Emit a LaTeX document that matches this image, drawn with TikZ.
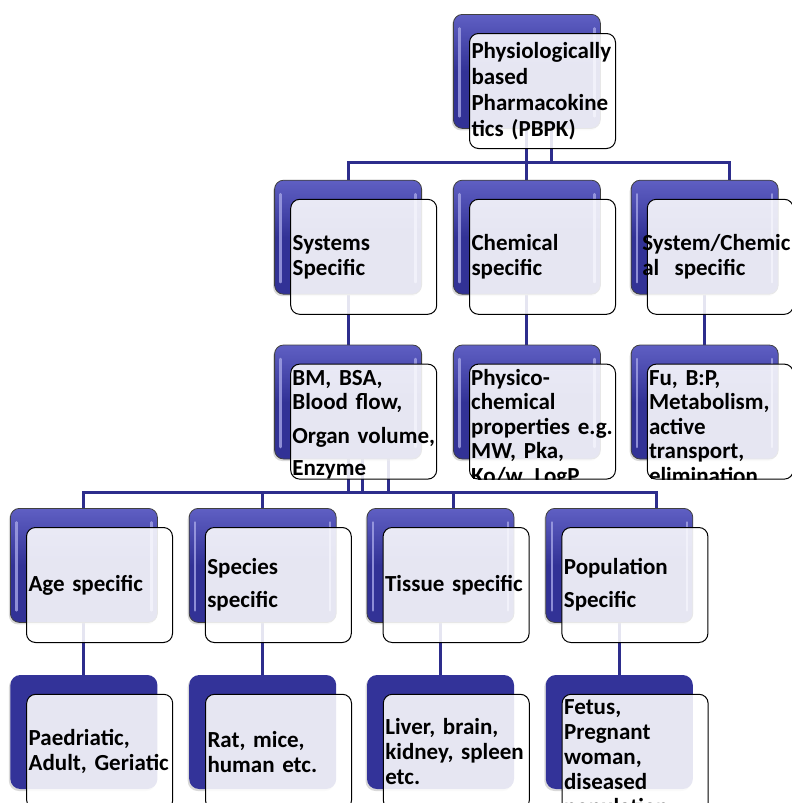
\documentclass[tikz,border=0pt]{standalone}
\usepackage{fontspec}
\setmainfont{Carlito}
\usepackage{xcolor}
\usepackage{tikz}
\usetikzlibrary{positioning,calc,shadows,backgrounds}
\definecolor{glossDark}{RGB}{50,50,150}
\definecolor{glossTop}{RGB}{95,95,195}
\definecolor{glossLine}{RGB}{165,165,230}
\definecolor{flatBlue}{RGB}{51,51,153}
\definecolor{linkBlue}{RGB}{45,45,140}
\hyphenpenalty=10000
\exhyphenpenalty=10000

\begin{document}
\begin{tikzpicture}[
  font=\fontsize{23}{25}\selectfont\bfseries,
  node distance=51pt and 31pt,
  back/.style={
    draw=black!75, line width=0.8pt, rounded corners=9pt,
    top color=glossTop, bottom color=glossDark, middle color=glossDark,
    minimum width=147pt, minimum height=114pt, inner sep=0pt,
    drop shadow={shadow xshift=-1.5pt, shadow yshift=-2pt, opacity=0.3},
    path picture={
      \draw[glossLine, line width=2.5pt, line cap=round, opacity=0.8]
        ([xshift=6pt,yshift=-14pt]path picture bounding box.north west)
          -- ([xshift=6pt,yshift=12pt]path picture bounding box.south west)
        ([xshift=-6pt,yshift=-14pt]path picture bounding box.north east)
          -- ([xshift=-6pt,yshift=12pt]path picture bounding box.south east);
    }
  },
  flat/.style={
    fill=flatBlue, rounded corners=10pt,
    minimum width=147pt, minimum height=114pt, inner sep=0pt,
    drop shadow={shadow xshift=-1.5pt, shadow yshift=-2pt, opacity=0.3}
  },
  front/.style={
    draw=black, line width=1pt, rounded corners=9pt,
    fill=white, fill opacity=0.88, text opacity=1,
    minimum width=146pt, minimum height=115pt,
    text width=142pt, inner xsep=2pt, inner ysep=0pt, align=left
  },
  fronttext/.style={text width=142pt, inner sep=0pt, align=left,
    font=\fontsize{23}{24.5}\selectfont\bfseries},
  link/.style={draw=linkBlue, line width=3pt}
]
\useasboundingbox (0,0) rectangle (792pt,-803pt);

% Back boxes
\node[back, anchor=north west] (pbpk) at (453pt,-14pt) {};

\node[back, below=of pbpk] (chem) {};
\node[back, left=of chem] (sys) {};
\node[back, right=30pt of chem] (syschem) {};

\node[back, below=50pt of sys] (sysp) {};
\node[back, below=50pt of chem] (chemp) {};
\node[back, below=50pt of syschem] (scp) {};

\node[back, anchor=north west] (age) at (10pt,-508pt) {};
\node[back, right=of age] (species) {};
\node[back, right=30pt of species] (tissue) {};
\node[back, right=of tissue] (pop) {};

\node[flat, below=52pt of age] (ageX) {};
\node[flat, below=52pt of species] (speciesX) {};
\node[flat, below=52pt of tissue] (tissueX) {};
\node[flat, below=52pt of pop] (popX) {};

% Connectors
\begin{scope}[on background layer]
\coordinate (bus1) at ($(chem.north)+(0,17pt)$);
\coordinate (tap1) at ($(pbpk.south)+(25pt,0)$);
\coordinate (end1) at ($(syschem.north)+(25pt,0)$);
\draw[link] (pbpk.south) -- (chem.north);
\draw[link] (tap1) -- (tap1 |- bus1);
\draw[link] (sys.north) |- (bus1) -| (end1);

\draw[link] (sys.south) -- (sysp.north);
\draw[link] (chem.south) -- (chemp.north);
\draw[link] (syschem.south) -- (scp.north);

\coordinate (bus2) at ($(sysp.south)+(0,-33pt)$);
\coordinate (tap2) at ($(sysp.south)+(14pt,0)$);
\coordinate (tap3) at ($(sysp.south)+(40pt,0)$);
\coordinate (end2) at ($(tissue.north)+(12.5pt,0)$);
\coordinate (end3) at ($(pop.north)+(37.5pt,0)$);
\draw[link] (sysp.south) -- (sysp.south |- bus2);
\draw[link] (tap2) -- (tap2 |- bus2);
\draw[link] (tap3) -- (tap3 |- bus2);
\draw[link] (age.north) |- (bus2) -| (end3);
\draw[link] (species.north) -- (species.north |- bus2);
\draw[link] (end2) -- (end2 |- bus2);

\draw[link] (age.south) -- (ageX.north);
\draw[link] (species.south) -- (speciesX.north);
\draw[link] (tissue.south) -- (tissueX.north);
\draw[link] (pop.south) -- (popX.north);
\end{scope}

% Front boxes
\node[front, anchor=north west, font=\fontsize{23}{26}\selectfont\bfseries] (pbpkF)
  at ($(pbpk.north west)+(16pt,-19pt)$)
  {Physiologically\\based\\Pharmacokine\\tics (PBPK)};

\node[front, anchor=north west] (sysF) at ($(sys.north west)+(16pt,-19pt)$)
  {Systems\\Specific};
\node[front, anchor=north west] (chemF) at ($(chem.north west)+(16pt,-19pt)$)
  {Chemical\\specific};
\node[front, anchor=north west] (syschemF) at ($(syschem.north west)+(16pt,-19pt)$)
  {\hspace*{-7pt}System/Chemic\\\hspace*{-7pt}al\ \ specific};

% row 3, text cut at the box edge
\node[front, anchor=north west] (syspF) at ($(sysp.north west)+(16pt,-19pt)$) {};
\begin{scope}
  \clip[rounded corners=9pt] (syspF.north west) rectangle (syspF.south east);
  \node[fronttext, anchor=north west] (syspT) at ($(syspF.north west)+(2pt,-4.5pt)$)
    {\strut BM, BSA,\\Blood flow,\\[9pt]\mbox{Organ volume,}\\[8pt]Enzyme};
\end{scope}

\node[front, anchor=north west] (chempF) at ($(chemp.north west)+(16pt,-19pt)$) {};
\begin{scope}
  \clip[rounded corners=9pt] (chempF.north west) rectangle (chempF.south east);
  \node[fronttext, anchor=north west] (chempT) at ($(chempF.north west)+(2pt,-4.5pt)$)
    {\strut Physico-\\chemical\\properties e.g.\\MW, Pka,\\Ko/w, LogP};
\end{scope}

\node[front, anchor=north west] (scpF) at ($(scp.north west)+(16pt,-19pt)$) {};
\begin{scope}
  \clip[rounded corners=9pt] (scpF.north west) rectangle (scpF.south east);
  \node[fronttext, anchor=north west] (scpT) at ($(scpF.north west)+(2pt,-4.5pt)$)
    {\strut Fu, B:P,\\Metabolism,\\active\\transport,\\elimination};
\end{scope}

\node[front, anchor=north west] (ageF) at ($(age.north west)+(16pt,-19pt)$)
  {Age specific};
\node[front, anchor=north west] (speciesF) at ($(species.north west)+(16pt,-19pt)$)
  {Species\\[8pt]specific};
\node[front, anchor=north west] (tissueF) at ($(tissue.north west)+(16pt,-19pt)$)
  {Tissue specific};
\node[front, anchor=north west] (popF) at ($(pop.north west)+(16pt,-19pt)$)
  {Population\\[8pt]Specific};

\node[front, anchor=north west] (ageXF) at ($(ageX.north west)+(16pt,-19pt)$)
  {Paedriatic,\\Adult, Geriatic};
\node[front, anchor=north west] (speciesXF) at ($(speciesX.north west)+(16pt,-19pt)$)
  {Rat, mice,\\human etc.};
\node[front, anchor=north west] (tissueXF) at ($(tissueX.north west)+(16pt,-19pt)$)
  {Liver, brain,\\kidney, spleen\\etc.};
\node[front, anchor=north west, inner ysep=5pt] (popXF) at ($(popX.north west)+(16pt,-19pt)$)
  {Fetus,\\Pregnant\\woman,\\diseased\\population};

\end{tikzpicture}
\end{document}
